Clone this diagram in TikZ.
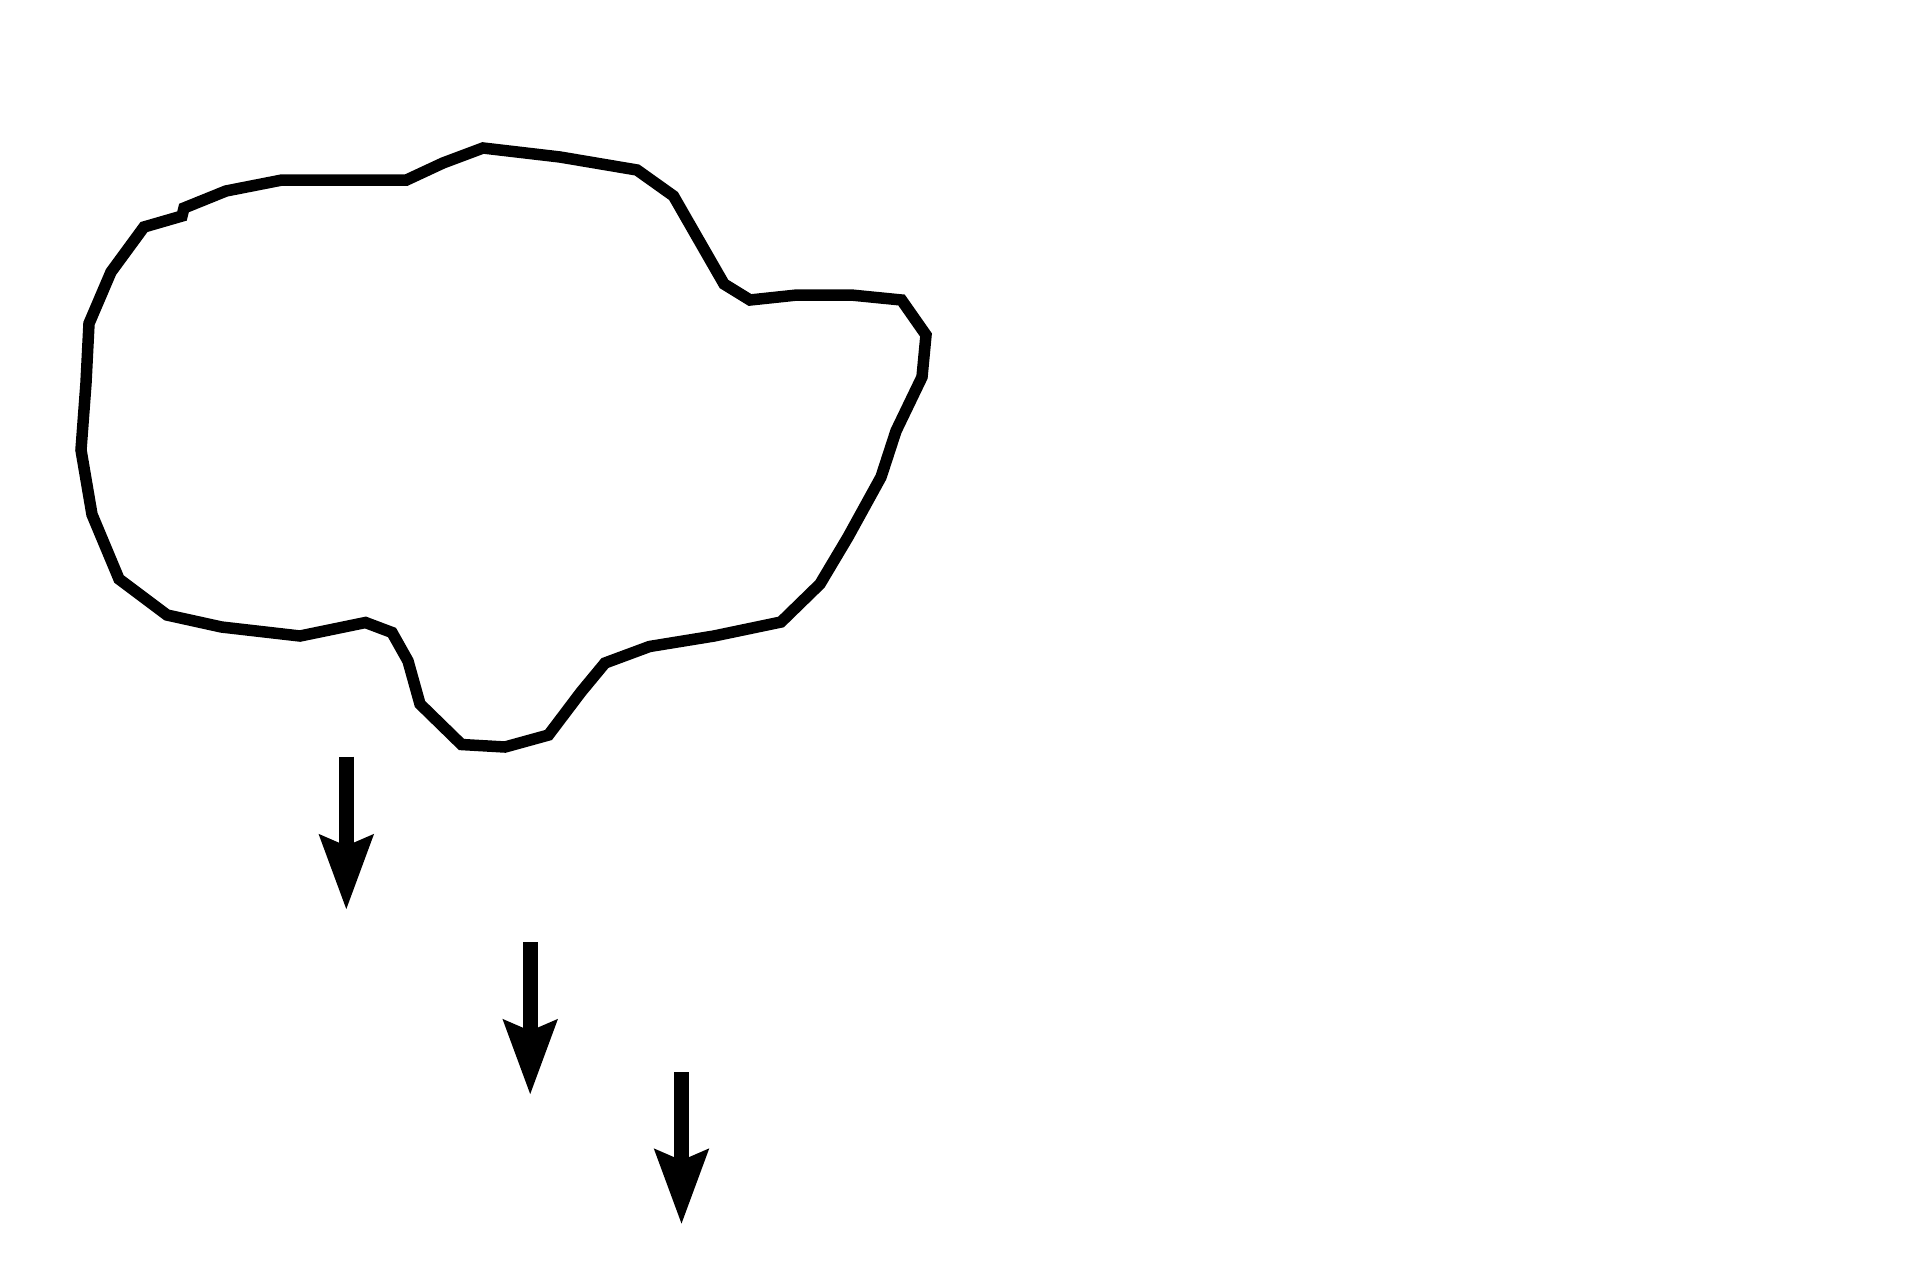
\documentclass[tikz,border=0pt]{standalone}
\usetikzlibrary{arrows.meta}
\begin{document}
\begin{tikzpicture}[x=0.5pt,y=-0.5pt,
  cloudline/.style={line width=5.75pt,line join=miter,draw=black},
  droparrow/.style={line width=7.35pt,draw=black,-{Stealth[length=37pt,width=26pt,inset=5pt]}}]
\useasboundingbox[fill=white] (0,0) rectangle (1920,1280);
\draw[cloudline] (144,227) -- (182,216) -- (184,208) -- (226,191) -- (282,180) -- (406.5,180)
 -- (443,163) -- (483,148) -- (560,157) -- (637,170) -- (673.5,196) -- (697,237) -- (724,284)
 -- (750,300) -- (797,295) -- (851,295) -- (901.5,300) -- (926,335) -- (922,377) -- (896,431)
 -- (881,477) -- (848,537) -- (820,584) -- (781,622) -- (714,636) -- (649.5,646.5) -- (605,663)
 -- (581,692) -- (548.5,735) -- (505,747) -- (461.5,744.5) -- (420,704) -- (408,661) -- (392,632.5)
 -- (365.5,622.5) -- (300,636) -- (221.5,627) -- (167,615) -- (119,579) -- (92,514.5) -- (81,450)
 -- (86,383) -- (89,323.5) -- (111,272) -- cycle;
\coordinate (a1s) at (346.3,756.7); \coordinate (a1e) at (346.3,910);
\coordinate (a2s) at (530.2,942);   \coordinate (a2e) at (530.2,1095);
\coordinate (a3s) at (681.5,1072);  \coordinate (a3e) at (681.5,1224.5);
\draw[droparrow] (a1s) -- (a1e);
\draw[droparrow] (a2s) -- (a2e);
\draw[droparrow] (a3s) -- (a3e);
\end{tikzpicture}
\end{document}
